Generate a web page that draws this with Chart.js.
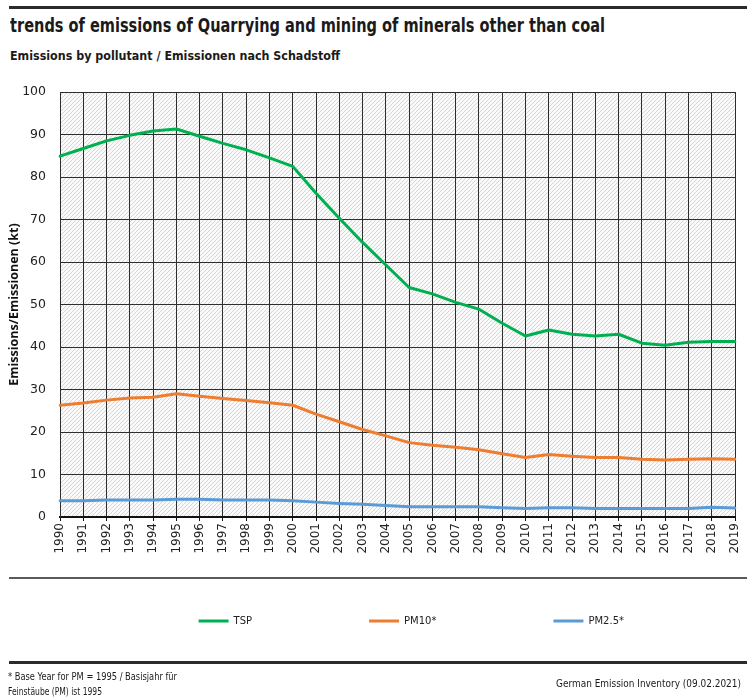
<!DOCTYPE html>
<html>
<head>
<meta charset="utf-8">
<script src="https://cdn.jsdelivr.net/npm/chart.js@4.4.1/dist/chart.umd.min.js"></script>
<style>
  html, body { margin: 0; padding: 0; background: #fff; }
  body { width: 756px; height: 700px; position: relative; overflow: hidden; }
  .txt { position: absolute; white-space: nowrap; color: #1a1a1a; transform-origin: left top;
         font-family: 'Liberation Sans Narrow', 'DejaVu Sans Condensed', 'Open Sans', sans-serif; }
  .rule { position: absolute; left: 9px; width: 738px; }
  #chart { position: absolute; left: 0; top: 0; }
</style>
</head>
<body>
<div class="rule" style="top:6px;height:3px;background:#2b2b2b;"></div>
<div id="title" class="txt" data-w="595" style="left:10px;top:13px;font-size:20px;font-weight:bold;">trends of emissions of Quarrying and mining of minerals other than coal</div>
<div id="subtitle" class="txt" data-w="330" style="left:10px;top:48px;font-size:13px;font-weight:bold;">Emissions by pollutant / Emissionen nach Schadstoff</div>
<canvas id="chart" width="756" height="700"></canvas>
<div class="rule" style="top:577px;height:2px;background:#5a5a5a;"></div>
<div class="rule" style="top:661px;height:3px;background:#2b2b2b;"></div>
<div id="fn1" class="txt" data-w="169" style="left:8px;top:671px;font-size:10px;">* Base Year for PM = 1995 / Basisjahr für</div>
<div id="fn2" class="txt" data-w="94" style="left:8px;top:686px;font-size:10px;">Feinstäube (PM) ist 1995</div>
<div id="src" class="txt" data-w="185" data-right="741" style="top:678px;font-size:10px;">German Emission Inventory (09.02.2021)</div>
<script>
// ---- data ----
const years = ['1990','1991','1992','1993','1994','1995','1996','1997','1998','1999',
               '2000','2001','2002','2003','2004','2005','2006','2007','2008','2009',
               '2010','2011','2012','2013','2014','2015','2016','2017','2018','2019'];
const tsp  = [84.9, 86.7, 88.5, 89.8, 90.8, 91.3, 89.6, 87.9, 86.4, 84.5,
              82.5, 76.2, 70.3, 64.6, 59.3, 54.0, 52.5, 50.5, 48.9, 45.6,
              42.6, 44.0, 43.0, 42.6, 43.0, 40.9, 40.4, 41.1, 41.3, 41.3];
const pm10 = [26.3, 26.8, 27.5, 28.0, 28.2, 29.0, 28.4, 27.9, 27.4, 26.9,
              26.3, 24.2, 22.4, 20.6, 19.1, 17.5, 16.9, 16.4, 15.8, 14.9,
              14.0, 14.7, 14.3, 14.0, 14.0, 13.6, 13.4, 13.6, 13.7, 13.6];
const pm25 = [3.8, 3.8, 4.0, 4.0, 4.0, 4.2, 4.2, 4.0, 4.0, 4.0,
              3.8, 3.5, 3.2, 3.0, 2.7, 2.4, 2.4, 2.4, 2.4, 2.2,
              2.0, 2.2, 2.2, 2.0, 2.0, 2.0, 2.0, 2.0, 2.3, 2.1];
const seriesNames = ['TSP', 'PM10*', 'PM2.5*'];
const yMin = 0, yMax = 100, yStep = 10;
const yTitle = 'Emissions/Emissionen (kt)';

// ---- fit HTML text widths ----
document.querySelectorAll('.txt').forEach(el => {
  const w = el.getBoundingClientRect().width;
  const target = parseFloat(el.dataset.w);
  const s = target / w;
  if (el.dataset.right) {
    el.style.left = (parseFloat(el.dataset.right) - target) + 'px';
  }
  el.style.transform = 'scaleX(' + s.toFixed(4) + ')';
});

// ---- plugins ----
const hatchBg = {
  id: 'hatchBg',
  beforeDraw(chart) {
    const {ctx, chartArea: a} = chart;
    const n = 4;
    const pc = document.createElement('canvas');
    pc.width = n; pc.height = n;
    const p = pc.getContext('2d');
    p.fillStyle = '#fafafa';
    p.fillRect(0, 0, n, n);
    p.strokeStyle = '#d6d6d6';
    p.lineWidth = 1;
    p.beginPath();
    p.moveTo(0, n); p.lineTo(n, 0);
    p.moveTo(-1, 1); p.lineTo(1, -1);
    p.moveTo(n - 1, n + 1); p.lineTo(n + 1, n - 1);
    p.stroke();
    ctx.save();
    ctx.fillStyle = ctx.createPattern(pc, 'repeat');
    ctx.fillRect(a.left, a.top, a.right - a.left, a.bottom - a.top);
    ctx.restore();
  }
};
const legendPlacer = {
  id: 'legendPlacer',
  afterLayout(chart) {
    const lg = chart.legend;
    if (!lg) return;
    lg.left = 0;
    lg.right = 741;
    lg.width = 741;
    lg.top = 499;
    lg.bottom = 640;
    lg.height = 141;
  }
};

const font = "'DejaVu Sans', Verdana, sans-serif";

new Chart(document.getElementById('chart'), {
  type: 'line',
  data: {
    labels: years,
    datasets: [
      { label: seriesNames[0], data: tsp,  borderColor: '#00b050', backgroundColor: '#00b050' },
      { label: seriesNames[1], data: pm10, borderColor: '#ed7d31', backgroundColor: '#ed7d31' },
      { label: seriesNames[2], data: pm25, borderColor: '#5b9bd5', backgroundColor: '#5b9bd5' }
    ]
  },
  options: {
    responsive: false,
    animation: false,
    devicePixelRatio: 1,
    events: [],
    elements: {
      line: { borderWidth: 3, tension: 0, fill: false, borderCapStyle: 'round', borderJoinStyle: 'round' },
      point: { radius: 0 }
    },
    layout: { padding: { top: 92, right: 21, left: 0, bottom: 137 } },
    scales: {
      x: {
        type: 'category',
        offset: false,
        afterFit(scale) { scale.height = 45; },
        grid: { color: '#2e2e2e', lineWidth: 1, drawTicks: true, tickLength: 4, tickColor: '#111' },
        border: { color: '#111', width: 2 },
        ticks: { color: '#222', font: { family: font, size: 12 }, minRotation: 90, maxRotation: 90, padding: 2, autoSkip: false }
      },
      y: {
        min: yMin, max: yMax,
        afterFit(scale) { scale.width = 60; },
        grid: { color: '#2e2e2e', lineWidth: 1, drawTicks: false },
        border: { color: '#2e2e2e', width: 1 },
        ticks: { stepSize: yStep, color: '#222', font: { family: font, size: 12.5 }, padding: 14 },
        title: { display: true, text: yTitle, color: '#111',
                 font: { family: "'Open Sans', sans-serif", size: 12.5, weight: 'bold' },
                 padding: { top: 7, bottom: 4 } }
      }
    },
    plugins: {
      title: { display: false },
      tooltip: { enabled: false },
      legend: {
        display: true,
        position: 'bottom',
        fullSize: false,
        align: 'end',
        maxHeight: 1,
        labels: {
          boxWidth: 30,
          boxHeight: 3,
          padding: 117,
          color: '#222',
          font: { family: font, size: 10 },
          generateLabels(chart) {
            const items = Chart.defaults.plugins.legend.labels.generateLabels(chart);
            items.forEach(it => { it.lineWidth = 0; it.fillStyle = it.strokeStyle; });
            return items;
          }
        }
      }
    }
  },
  plugins: [hatchBg, legendPlacer]
});
</script>
</body>
</html>
